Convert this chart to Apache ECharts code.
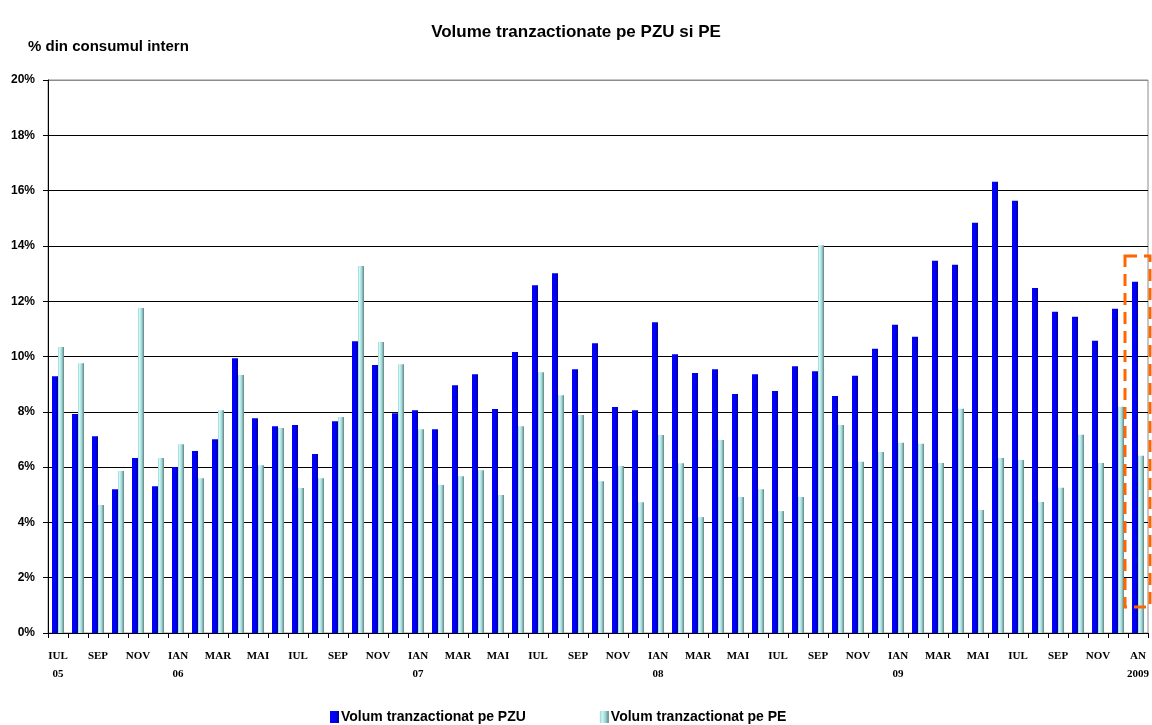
<!DOCTYPE html>
<html>
<head>
<meta charset="utf-8" />
<title>Volume tranzactionate pe PZU si PE</title>
<script src="https://cdn.jsdelivr.net/npm/echarts@6/dist/echarts.min.js"></script>
<style>
  html, body { margin: 0; padding: 0; background: #fff; }
  #chart { width: 1152px; height: 725px; }
</style>
</head>
<body>
<div id="chart"></div>
<script>
// Jul 2005 .. Jan 2010, one label per month (every other one is shown)
const months = [
  "IUL\n05", "AUG", "SEP", "OCT", "NOV", "DEC",
  "IAN\n06", "FEB", "MAR", "APR", "MAI", "IUN", "IUL", "AUG", "SEP", "OCT", "NOV", "DEC",
  "IAN\n07", "FEB", "MAR", "APR", "MAI", "IUN", "IUL", "AUG", "SEP", "OCT", "NOV", "DEC",
  "IAN\n08", "FEB", "MAR", "APR", "MAI", "IUN", "IUL", "AUG", "SEP", "OCT", "NOV", "DEC",
  "IAN\n09", "FEB", "MAR", "APR", "MAI", "IUN", "IUL", "AUG", "SEP", "OCT", "NOV", "DEC",
  "AN\n2009",
];

// % din consumul intern
const pzu = [
  9.29, 7.92, 7.12, 5.20, 6.33, 5.31, 6.00, 6.58,
  7.01, 9.94, 7.77, 7.48, 7.52, 6.47, 7.66, 10.55,
  9.69, 7.95, 8.06, 7.37, 8.96, 9.36, 8.10, 10.16,
  12.58, 13.01, 9.54, 10.48, 8.17, 8.06, 11.24, 10.08,
  9.40, 9.54, 8.64, 9.36, 8.75, 9.65, 9.47, 8.57,
  9.30, 10.28, 11.15, 10.71, 13.46, 13.32, 14.84, 16.32,
  15.63, 12.48, 11.62, 11.44, 10.57, 11.73, 12.70,
];

const pe = [
  10.34, 9.76, 4.63, 5.86, 11.75, 6.33, 6.83, 5.60,
  8.06, 9.33, 6.07, 7.41, 5.24, 5.60, 7.81, 13.27,
  10.52, 9.72, 7.37, 5.35, 5.67, 5.89, 4.99, 7.48,
  9.43, 8.60, 7.88, 5.49, 6.04, 4.73, 7.16, 6.14,
  4.19, 6.98, 4.92, 5.20, 4.41, 4.92, 14.02, 7.52,
  6.19, 6.55, 6.88, 6.84, 6.15, 8.11, 4.45, 6.33,
  6.26, 4.74, 5.25, 7.17, 6.15, 8.18, 6.41,
];

const seriesNames = ["Volum tranzactionat pe PZU", "Volum tranzactionat pe PE"];

const sans = "'Liberation Sans', Arial, sans-serif";
const serif = "'Liberation Serif', 'Times New Roman', serif";

function gradient(stops) {
  return new echarts.graphic.LinearGradient(0, 0, 1, 0,
    stops.map(([offset, color]) => ({ offset, color })));
}

const bluePaint = gradient([[0, "#0000ff"], [0.6, "#0000f2"], [1, "#000090"]]);
const cyanPaint = gradient([[0, "#9fcfcf"], [0.25, "#c8fafa"], [0.6, "#a6d6d6"], [1, "#5f8282"]]);

// gridlines are black, the top one (20%) is grey like the frame
const splitColors = ["#000", "#000", "#000", "#000", "#000", "#000", "#000", "#000", "#000", "#000", "#8c8c8c"];

const chart = echarts.init(document.getElementById("chart"), null, { renderer: "canvas" });

chart.setOption({
  backgroundColor: "#fff",
  animation: false,
  title: {
    text: "Volume tranzactionate pe PZU si PE",
    left: "center",
    top: 19,
    textStyle: { fontFamily: sans, fontWeight: "bold", fontSize: 17, color: "#000" },
  },
  legend: {
    left: 325,
    top: 705,
    itemWidth: 9,
    itemHeight: 12,
    itemGap: 74,
    icon: "rect",
    textStyle: { fontFamily: sans, fontWeight: "bold", fontSize: 14, color: "#000", padding: [0, 0, 0, -3] },
    data: seriesNames,
  },
  grid: {
    left: 48,
    right: 2,
    top: 80,
    bottom: 92,
    show: true,
    borderColor: "#8c8c8c",
    borderWidth: 1,
    backgroundColor: "#fff",
  },
  xAxis: {
    type: "category",
    data: months,
    boundaryGap: true,
    axisLine: { lineStyle: { color: "#000", width: 1 } },
    axisTick: { show: true, interval: 0, length: 5, lineStyle: { color: "#000" } },
    axisLabel: {
      interval: 1,
      margin: 14,
      color: "#000",
      fontFamily: serif,
      fontWeight: "bold",
      fontSize: 11,
      lineHeight: 18,
    },
    splitLine: { show: false },
  },
  yAxis: {
    type: "value",
    min: 0,
    max: 20,
    interval: 2,
    axisLine: { show: true, lineStyle: { color: "#000", width: 1 } },
    axisTick: { show: true, length: 5, lineStyle: { color: "#000" } },
    axisLabel: {
      formatter: "{value}%",
      margin: 13,
      color: "#000",
      fontFamily: sans,
      fontWeight: "bold",
      fontSize: 12,
    },
    splitLine: { show: true, lineStyle: { color: splitColors, width: 1 } },
  },
  series: [
    {
      name: seriesNames[0],
      type: "bar",
      data: pzu,
      barWidth: 6,
      barGap: "0%",
      itemStyle: { color: bluePaint },
    },
    {
      name: seriesNames[1],
      type: "bar",
      data: pe,
      barWidth: 6,
      barGap: "0%",
      itemStyle: { color: cyanPaint },
    },
  ],
  graphic: [
    {
      type: "text",
      left: 28,
      top: 39,
      style: {
        text: "% din consumul intern",
        fill: "#000",
        font: "bold 15px " + sans,
      },
    },
    {
      // highlight box around the last month
      type: "rect",
      shape: { x: 1125, y: 256, width: 25, height: 351 },
      style: { fill: "none", stroke: "#ff6600", lineWidth: 3, lineDash: [12, 7] },
      z: 100,
    },
  ],
});
</script>
</body>
</html>
